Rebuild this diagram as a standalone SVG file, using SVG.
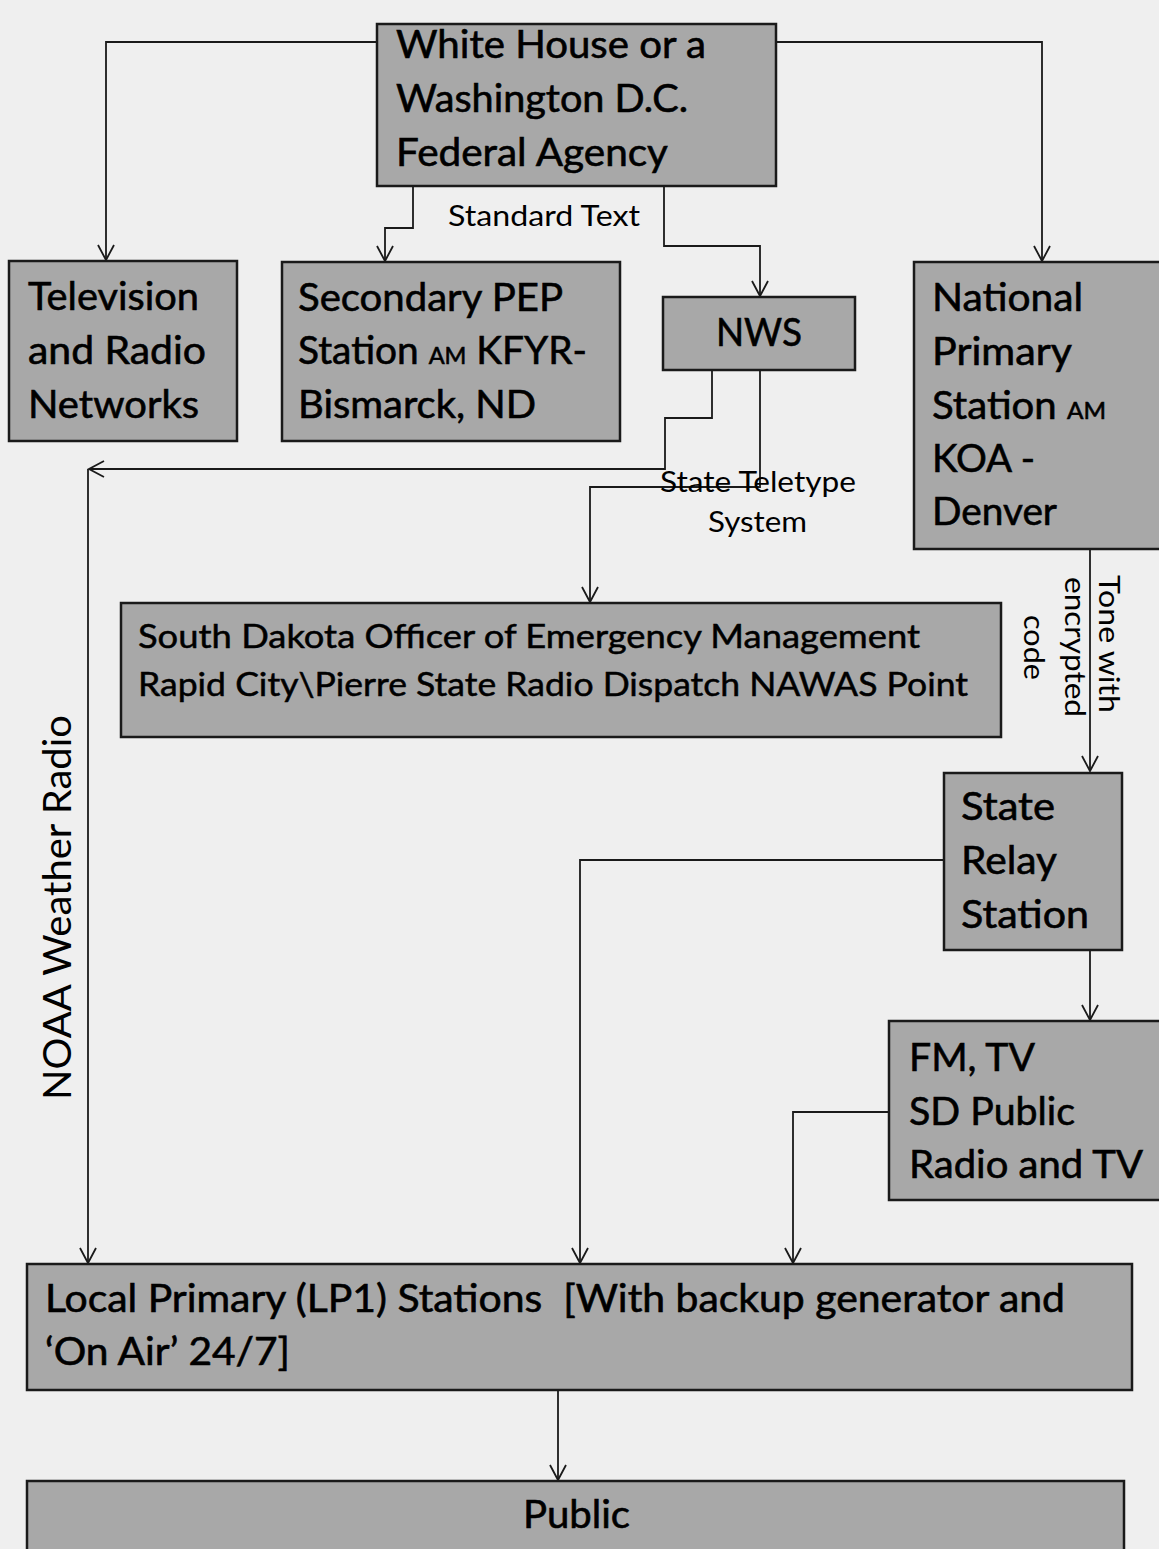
<svg xmlns="http://www.w3.org/2000/svg" width="1159" height="1549" viewBox="0 0 1159 1549">
<style>
.bg{fill:#efefef}
.box{fill:#a8a8a8;stroke:#1a1a1a;stroke-width:2.5}
.t{font-family:Lato,"Liberation Sans",sans-serif;fill:#000;font-size:38px;stroke:#000;stroke-width:0.6}
.s{font-family:Lato,"Liberation Sans",sans-serif;fill:#000;font-size:28px}
.m{font-family:Lato,"Liberation Sans",sans-serif;fill:#000;font-size:33px;stroke:#000;stroke-width:0.5}
.sc{font-size:23px}
.c{fill:none;stroke:#1a1a1a;stroke-width:1.8}
</style>
<defs>
<marker id="ah" markerUnits="userSpaceOnUse" viewBox="-16 -10 18 20" refX="0" refY="0" markerWidth="18" markerHeight="20" orient="auto" overflow="visible">
<path d="M-15,-8 L0,0 L-15,8" fill="none" stroke="#1a1a1a" stroke-width="1.8"/>
</marker>
</defs>
<rect class="bg" x="0" y="0" width="1159" height="1549"/>

<g id="connectors">
<path class="c" d="M377,42 H106 V260" marker-end="url(#ah)"/>
<path class="c" d="M413,187 V228 H385 V261" marker-end="url(#ah)"/>
<path class="c" d="M664,187 V246 H760 V296" marker-end="url(#ah)"/>
<path class="c" d="M776,42 H1042 V261" marker-end="url(#ah)"/>
<path class="c" d="M712,370 V418 H665 V469 H89" marker-end="url(#ah)"/>
<path class="c" d="M88,469 V1263" marker-end="url(#ah)"/>
<path class="c" d="M760,370 V487 H590 V602" marker-end="url(#ah)"/>
<path class="c" d="M1090,549 V771" marker-end="url(#ah)"/>
<path class="c" d="M944,860 H580 V1263" marker-end="url(#ah)"/>
<path class="c" d="M1090,950 V1020" marker-end="url(#ah)"/>
<path class="c" d="M889,1112 H793 V1263" marker-end="url(#ah)"/>
<path class="c" d="M558,1390 V1480" marker-end="url(#ah)"/>
</g>

<g id="labels">
<text class="s" x="448" y="226" textLength="192" lengthAdjust="spacingAndGlyphs">Standard Text</text>
<text class="s" x="660" y="492" textLength="196" lengthAdjust="spacingAndGlyphs">State Teletype</text>
<text class="s" x="708" y="532" textLength="99" lengthAdjust="spacingAndGlyphs">System</text>
<text class="s" transform="translate(1099,575) rotate(90)" textLength="138" lengthAdjust="spacingAndGlyphs">Tone with</text>
<text class="s" transform="translate(1065,577) rotate(90)" textLength="140" lengthAdjust="spacingAndGlyphs">encrypted</text>
<text class="s" transform="translate(1024,615) rotate(90)" textLength="65" lengthAdjust="spacingAndGlyphs">code</text>
<text class="s" style="font-size:38px" transform="translate(71,1100) rotate(-90)" textLength="385" lengthAdjust="spacingAndGlyphs">NOAA Weather Radio</text>
</g>

<g id="whitehouse">
<rect class="box" x="377" y="24" width="399" height="162"/>
<text class="t" x="396" y="58" textLength="310" lengthAdjust="spacingAndGlyphs">White House or a</text>
<text class="t" x="396" y="112" textLength="292" lengthAdjust="spacingAndGlyphs">Washington D.C.</text>
<text class="t" x="396" y="166" textLength="272" lengthAdjust="spacingAndGlyphs">Federal Agency</text>
</g>

<g id="tvradio">
<rect class="box" x="9" y="261" width="228" height="180"/>
<text class="t" x="28" y="310" textLength="171" lengthAdjust="spacingAndGlyphs">Television</text>
<text class="t" x="28" y="364" textLength="178" lengthAdjust="spacingAndGlyphs">and Radio</text>
<text class="t" x="28" y="418" textLength="171" lengthAdjust="spacingAndGlyphs">Networks</text>
</g>

<g id="secondary">
<rect class="box" x="282" y="262" width="338" height="179"/>
<text class="t" x="298" y="311" textLength="265" lengthAdjust="spacingAndGlyphs">Secondary PEP</text>
<text class="t" x="298" y="364" textLength="289" lengthAdjust="spacingAndGlyphs">Station <tspan class="sc">AM</tspan> KFYR-</text>
<text class="t" x="298" y="418" textLength="238" lengthAdjust="spacingAndGlyphs">Bismarck, ND</text>
</g>

<g id="nws">
<rect class="box" x="663" y="297" width="192" height="73"/>
<text class="t" x="716" y="346" textLength="86" lengthAdjust="spacingAndGlyphs">NWS</text>
</g>

<g id="national">
<rect class="box" x="914" y="262" width="260" height="287"/>
<text class="t" x="932" y="311" textLength="151" lengthAdjust="spacingAndGlyphs">National</text>
<text class="t" x="932" y="365" textLength="140" lengthAdjust="spacingAndGlyphs">Primary</text>
<text class="t" x="932" y="419" textLength="174" lengthAdjust="spacingAndGlyphs">Station <tspan class="sc">AM</tspan></text>
<text class="t" x="932" y="472" textLength="103" lengthAdjust="spacingAndGlyphs">KOA -</text>
<text class="t" x="932" y="525" textLength="125" lengthAdjust="spacingAndGlyphs">Denver</text>
</g>

<g id="sdoem">
<rect class="box" x="121" y="603" width="880" height="134"/>
<text class="m" x="138" y="648" textLength="782" lengthAdjust="spacingAndGlyphs">South Dakota Officer of Emergency Management</text>
<text class="m" x="138" y="696" textLength="830" lengthAdjust="spacingAndGlyphs">Rapid City\Pierre State Radio Dispatch NAWAS Point</text>
</g>

<g id="staterelay">
<rect class="box" x="944" y="773" width="178" height="177"/>
<text class="t" x="961" y="820" textLength="94" lengthAdjust="spacingAndGlyphs">State</text>
<text class="t" x="961" y="874" textLength="96" lengthAdjust="spacingAndGlyphs">Relay</text>
<text class="t" x="961" y="928" textLength="128" lengthAdjust="spacingAndGlyphs">Station</text>
</g>

<g id="fmtv">
<rect class="box" x="889" y="1021" width="285" height="179"/>
<text class="t" x="909" y="1071" textLength="126" lengthAdjust="spacingAndGlyphs">FM, TV</text>
<text class="t" x="909" y="1125" textLength="166" lengthAdjust="spacingAndGlyphs">SD Public</text>
<text class="t" x="909" y="1178" textLength="234" lengthAdjust="spacingAndGlyphs">Radio and TV</text>
</g>

<g id="lp1">
<rect class="box" x="27" y="1264" width="1105" height="126"/>
<text class="t" x="45" y="1312" textLength="1020" lengthAdjust="spacingAndGlyphs">Local Primary (LP1) Stations&#160; [With backup generator and</text>
<text class="t" x="45" y="1365" textLength="245" lengthAdjust="spacingAndGlyphs">‘On Air’ 24/7]</text>
</g>

<g id="public">
<rect class="box" x="27" y="1481" width="1097" height="90"/>
<text class="t" x="523" y="1528" textLength="107" lengthAdjust="spacingAndGlyphs">Public</text>
</g>
</svg>
